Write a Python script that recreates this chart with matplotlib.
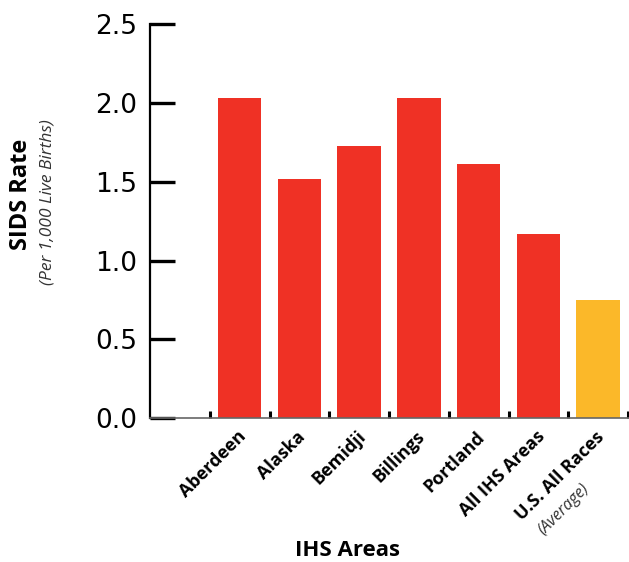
import matplotlib
matplotlib.use("Agg")
import matplotlib.pyplot as plt
import matplotlib.transforms as mtransforms
import numpy as np

categories = ["Aberdeen", "Alaska", "Bemidji", "Billings", "Portland", "All IHS Areas", "U.S. All Races"]
sids_rate = [2.03, 1.52, 1.73, 2.03, 1.61, 1.17, 0.75]
bar_colors = ["#EF3125"] * 6 + ["#FBB829"]
y_ticks = [0.0, 0.5, 1.0, 1.5, 2.0, 2.5]
y_tick_labels = ["0.0", "0.5", "1.0", "1.5", "2.0", "2.5"]
subnote = "(Average)"

FONT = ["Open Sans", "DejaVu Sans"]
plt.rcParams["font.family"] = FONT

W, H = 629, 562
fig = plt.figure(figsize=(W / 100, H / 100), dpi=100)
left, right = 150 / W, 1.0
bottom, top = (H - 418) / H, (H - 24.3) / H
ax = fig.add_axes([left, bottom, right - left, top - bottom])

x = np.arange(len(categories))
ax.bar(x, sids_rate, width=0.73, color=bar_colors, zorder=2)

ax.set_xlim(-1.5, 6.5 + 1 / 60)
ax.set_ylim(0, 2.5)

for s in ["top", "right"]:
    ax.spines[s].set_visible(False)
ax.spines["left"].set_linewidth(1.6)
ax.spines["left"].set_color("black")
ax.spines["bottom"].set_linewidth(1.2)
ax.spines["bottom"].set_color("#666666")

ax.set_yticks(y_ticks)
ax.set_yticklabels(y_tick_labels, fontsize=19, family=["DejaVu Sans"])
ax.tick_params(axis="y", direction="in", length=18, width=2.4, pad=9, colors="black")

ax.set_xticks(x)
ax.set_xticklabels([])
ax.tick_params(axis="x", which="major", length=0)
ax.set_xticks(np.arange(-0.5, 6.6, 1.0), minor=True)
ax.tick_params(axis="x", which="minor", direction="in", length=5, width=2.2, colors="black")

# rotated category labels
for xi, lab in zip(x, categories):
    offset = mtransforms.ScaledTranslation(2.5 / 72, -11.5 / 72, fig.dpi_scale_trans)
    tr = mtransforms.blended_transform_factory(ax.transData, ax.transAxes) + offset
    ax.text(xi, 0, lab, transform=tr, rotation=45, ha="right", va="center",
            rotation_mode="anchor", fontsize=13, fontweight="bold", color="black")

# "(Average)" under the last label
offset2 = mtransforms.ScaledTranslation(-8.5 / 72, -49 / 72, fig.dpi_scale_trans)
tr2 = mtransforms.blended_transform_factory(ax.transData, ax.transAxes) + offset2
ax.text(x[-1], 0, subnote, transform=tr2, rotation=45, ha="right", va="center",
        rotation_mode="anchor", fontsize=11.5, fontstyle="italic", color="#333333")

# axis titles
fig.text(347 / W, 1 - 550 / H, "IHS Areas", ha="center", va="center",
         fontsize=16, fontweight="bold")
fig.text(21 / W, 1 - 194 / H, "SIDS Rate", ha="center", va="center", rotation=90,
         fontsize=17, fontweight="bold")
fig.text(48 / W, 1 - 202 / H, "(Per 1,000 Live Births)", ha="center", va="center",
         rotation=90, fontsize=12.5, fontstyle="italic", color="#333333")

fig.savefig("out.png", dpi=100)
